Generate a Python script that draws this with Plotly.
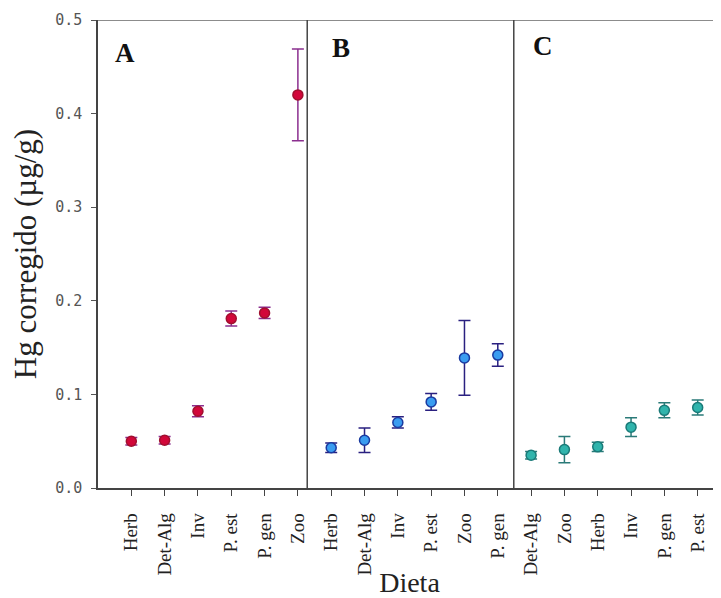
import plotly.graph_objects as go

# Panel A
cats_A = ["Herb", "Det-Alg", "Inv", "P. est", "P. gen", "Zoo"]
mean_A = [0.050, 0.051, 0.082, 0.181, 0.187, 0.420]
err_A = [0.004, 0.004, 0.006, 0.008, 0.006, 0.049]

# Panel B
cats_B = ["Herb", "Det-Alg", "Inv", "P. est", "Zoo", "P. gen"]
mean_B = [0.043, 0.051, 0.070, 0.092, 0.139, 0.142]
err_B = [0.005, 0.013, 0.006, 0.009, 0.040, 0.012]

# Panel C
cats_C = ["Det-Alg", "Zoo", "Herb", "Inv", "P. gen", "P. est"]
mean_C = [0.035, 0.041, 0.044, 0.065, 0.083, 0.086]
err_C = [0.004, 0.014, 0.005, 0.010, 0.008, 0.008]

panel_labels = ["A", "B", "C"]
panel_dividers = [6.28, 12.48]
y_ticks = [0.0, 0.1, 0.2, 0.3, 0.4, 0.5]

panels = [
    (cats_A, mean_A, err_A, "#d2073a", "#a0102e", "#8b2f8f"),
    (cats_B, mean_B, err_B, "#3a9cf0", "#1a3aa0", "#2a2080"),
    (cats_C, mean_C, err_C, "#30b4ac", "#1a7a78", "#2a7a78"),
]

SERIF = "Liberation Serif, Times New Roman, serif"

fig = go.Figure()
tickvals, ticktext = [], []
offset = 0
for cats, mean, err, fill, edge, ecol in panels:
    xs = [offset + i + 1 for i in range(len(cats))]
    tickvals += xs
    ticktext += cats
    fig.add_trace(go.Scatter(
        x=xs, y=mean, mode="markers",
        marker=dict(size=10, color=fill, line=dict(color=edge, width=1.5)),
        error_y=dict(type="data", array=err, visible=True, color=ecol,
                     thickness=1.5, width=6),
        showlegend=False,
    ))
    offset += len(cats)

shapes = [dict(type="line", xref="paper", yref="y", x0=0, x1=1, y0=0.5, y1=0.5,
               line=dict(color="#666666", width=1.5))]
for d in panel_dividers:
    shapes.append(dict(type="line", xref="x", yref="y", x0=d, x1=d, y0=0, y1=0.5,
                       line=dict(color="#444444", width=1.5)))

label_x = [0.82, 7.3, 13.35]
label_y = [0.465, 0.47, 0.472]
annotations = [dict(x=lx, y=ly, xref="x", yref="y", text=f"<b>{t}</b>", showarrow=False,
                    font=dict(family=SERIF, size=27, color="#111111"))
               for lx, ly, t in zip(label_x, label_y, panel_labels)]

fig.update_layout(
    width=713, height=590,
    margin=dict(l=90, r=0, t=12, b=110),
    plot_bgcolor="white", paper_bgcolor="white",
    shapes=shapes, annotations=annotations,
    xaxis=dict(range=[0, 18.7], tickvals=tickvals, ticktext=ticktext, tickangle=-90,
               showgrid=False, zeroline=False, showline=True, linecolor="#444444", linewidth=1.5,
               ticks="outside", ticklen=6, tickcolor="#444444", ticklabelstandoff=10,
               tickfont=dict(family=SERIF, size=19, color="#222222"),
               title=dict(text="Dieta", standoff=2,
                          font=dict(family=SERIF, size=28, color="#222222"))),
    yaxis=dict(range=[0, 0.5], tickvals=y_ticks,
               ticktext=[f"{v:.1f}" for v in y_ticks],
               showgrid=False, zeroline=False, showline=True, linecolor="#444444", linewidth=1.5,
               ticks="outside", ticklen=5, tickcolor="#555555", ticklabelstandoff=6,
               tickfont=dict(family="DejaVu Sans Mono, monospace", size=15, color="#555555"),
               title=dict(text="Hg corregido (µg/g)", standoff=10,
                          font=dict(family=SERIF, size=31, color="#222222"))),
)

fig.write_html("out.html")
